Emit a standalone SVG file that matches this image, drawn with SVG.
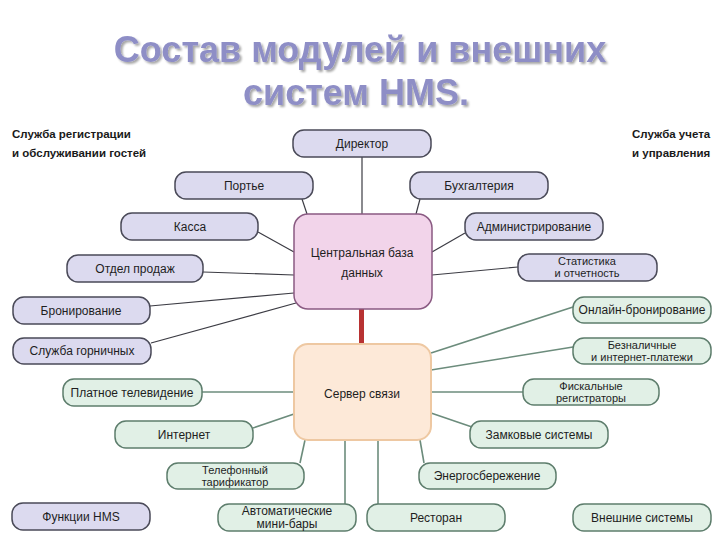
<svg xmlns="http://www.w3.org/2000/svg" width="720" height="540" viewBox="0 0 720 540">
<defs>
<filter id="sh" x="-5%" y="-20%" width="110%" height="140%">
<feGaussianBlur in="SourceAlpha" stdDeviation="1.2"/>
<feOffset dx="1.5" dy="1.5" result="b"/>
<feComponentTransfer><feFuncA type="linear" slope="0.35"/></feComponentTransfer>
<feMerge><feMergeNode/><feMergeNode in="SourceGraphic"/></feMerge>
</filter>
</defs>
<style>
.title{font-family:"Liberation Sans",Arial,sans-serif;font-weight:bold;font-size:36px;fill:#8e8ec6;text-anchor:middle}
.hdr{font-family:"Liberation Sans",Arial,sans-serif;font-weight:bold;font-size:11.5px;fill:#1a1a1a}
.t{font-family:"Liberation Sans",Arial,sans-serif;font-size:12px;fill:#1e1e1e;text-anchor:middle}
.t2{font-family:"Liberation Sans",Arial,sans-serif;font-size:11px;fill:#1e1e1e;text-anchor:middle}
.p{fill:#dcdaef;stroke:#4a4a58;stroke-width:1.5}
.g{fill:#e1f0e6;stroke:#5d7d6c;stroke-width:1.5}
.cp{stroke:#3c3c44;stroke-width:1.2;fill:none}
.cg{stroke:#6c8c7c;stroke-width:1.6;fill:none}
</style>
<rect width="720" height="540" fill="#ffffff"/>
<g id="title" filter="url(#sh)">
<text class="title" x="360" y="62">Состав модулей и внешних</text>
<text class="title" x="356" y="105">систем HMS.</text>
</g>
<g id="headers">
<text class="hdr" x="12" y="138">Служба регистрации</text>
<text class="hdr" x="12" y="157">и обслуживании гостей</text>
<text class="hdr" x="632" y="138">Служба учета</text>
<text class="hdr" x="632" y="157">и управления</text>
</g>
<g id="connectors">
<line class="cp" x1="362" y1="157" x2="362" y2="214"/>
<line class="cp" x1="302" y1="199" x2="307" y2="214"/>
<line class="cp" x1="420" y1="199" x2="416" y2="214"/>
<line class="cp" x1="258" y1="232" x2="294" y2="252"/>
<line class="cp" x1="465" y1="233" x2="432" y2="252"/>
<line class="cp" x1="203" y1="272" x2="294" y2="275"/>
<line class="cp" x1="518" y1="267" x2="432" y2="275"/>
<line class="cp" x1="150" y1="306" x2="294" y2="293"/>
<line class="cp" x1="151" y1="343" x2="296" y2="303"/>
<rect x="359" y="309" width="5" height="35" fill="#b83232"/>
<line class="cg" x1="573" y1="307" x2="431" y2="353"/>
<line class="cg" x1="573" y1="347" x2="431" y2="370"/>
<line class="cg" x1="523" y1="392" x2="431" y2="392"/>
<line class="cg" x1="202" y1="392" x2="294" y2="392"/>
<line class="cg" x1="253" y1="428" x2="294" y2="414"/>
<line class="cg" x1="472" y1="427" x2="431" y2="413"/>
<line class="cg" x1="300" y1="463" x2="305" y2="440"/>
<line class="cg" x1="424" y1="463" x2="420" y2="440"/>
<line class="cg" x1="345" y1="440" x2="345" y2="504"/>
<line class="cg" x1="378" y1="440" x2="378" y2="504"/>
</g>
<g id="db"><rect x="294" y="214" width="138" height="95" rx="14" fill="#f2d4ea" stroke="#8a5a82" stroke-width="1.5"/><text class="t" x="362" y="257">Центральная база</text><text class="t" x="362" y="277">данных</text></g>
<g id="server"><rect x="294" y="344" width="137" height="96" rx="14" fill="#fde9d8" stroke="#eec8a2" stroke-width="2"/><text class="t" x="362" y="398">Сервер связи</text></g>
<g id="director"><rect class="p" x="293" y="130" width="138" height="27" rx="11"/><text class="t" x="362" y="148">Директор</text></g>
<g id="portier"><rect class="p" x="175" y="172" width="138" height="27" rx="11"/><text class="t" x="244" y="190">Портье</text></g>
<g id="buh"><rect class="p" x="410" y="172" width="138" height="27" rx="11"/><text class="t" x="479" y="190">Бухгалтерия</text></g>
<g id="kassa"><rect class="p" x="121" y="213" width="137" height="27" rx="11"/><text class="t" x="190" y="231">Касса</text></g>
<g id="admin"><rect class="p" x="465" y="213" width="138" height="27" rx="11"/><text class="t" x="534" y="231">Администрирование</text></g>
<g id="sales"><rect class="p" x="67" y="255" width="136" height="27" rx="11"/><text class="t" x="135" y="273">Отдел продаж</text></g>
<g id="stat"><rect class="p" x="518" y="254" width="139" height="27" rx="11"/><text class="t2" x="587" y="265">Статистика</text><text class="t2" x="587" y="277">и отчетность</text></g>
<g id="bron"><rect class="p" x="13" y="297" width="137" height="27" rx="11"/><text class="t" x="81" y="315">Бронирование</text></g>
<g id="maids"><rect class="p" x="13" y="338" width="138" height="26" rx="11"/><text class="t" x="82" y="355">Служба горничных</text></g>
<g id="funcs"><rect class="p" x="12" y="503" width="138" height="27" rx="11"/><text class="t" x="81" y="521">Функции HMS</text></g>
<g id="online"><rect class="g" x="573" y="297" width="138" height="26" rx="11"/><text class="t" x="642" y="314">Онлайн-бронирование</text></g>
<g id="cashless"><rect class="g" x="573" y="338" width="138" height="26" rx="11"/><text class="t2" x="642" y="349">Безналичные</text><text class="t2" x="642" y="361">и интернет-платежи</text></g>
<g id="fiscal"><rect class="g" x="523" y="379" width="136" height="26" rx="11"/><text class="t2" x="591" y="390">Фискальные</text><text class="t2" x="591" y="402">регистраторы</text></g>
<g id="paytv"><rect class="g" x="63" y="379" width="139" height="27" rx="11"/><text class="t" x="132" y="397">Платное телевидение</text></g>
<g id="internet"><rect class="g" x="115" y="421" width="138" height="27" rx="11"/><text class="t" x="184" y="439">Интернет</text></g>
<g id="locks"><rect class="g" x="470" y="421" width="138" height="27" rx="11"/><text class="t" x="539" y="439">Замковые системы</text></g>
<g id="phone"><rect class="g" x="167" y="463" width="137" height="26" rx="11"/><text class="t2" x="235" y="474">Телефонный</text><text class="t2" x="235" y="486">тарификатор</text></g>
<g id="energy"><rect class="g" x="419" y="463" width="137" height="26" rx="11"/><text class="t" x="487" y="480">Энергосбережение</text></g>
<g id="minibar"><rect class="g" x="218" y="504" width="138" height="27" rx="11"/><text class="t" x="287" y="515">Автоматические</text><text class="t" x="287" y="528">мини-бары</text></g>
<g id="restaurant"><rect class="g" x="367" y="504" width="138" height="27" rx="11"/><text class="t" x="436" y="522">Ресторан</text></g>
<g id="external"><rect class="g" x="573" y="504" width="138" height="27" rx="11"/><text class="t" x="642" y="522">Внешние системы</text></g>
</svg>
